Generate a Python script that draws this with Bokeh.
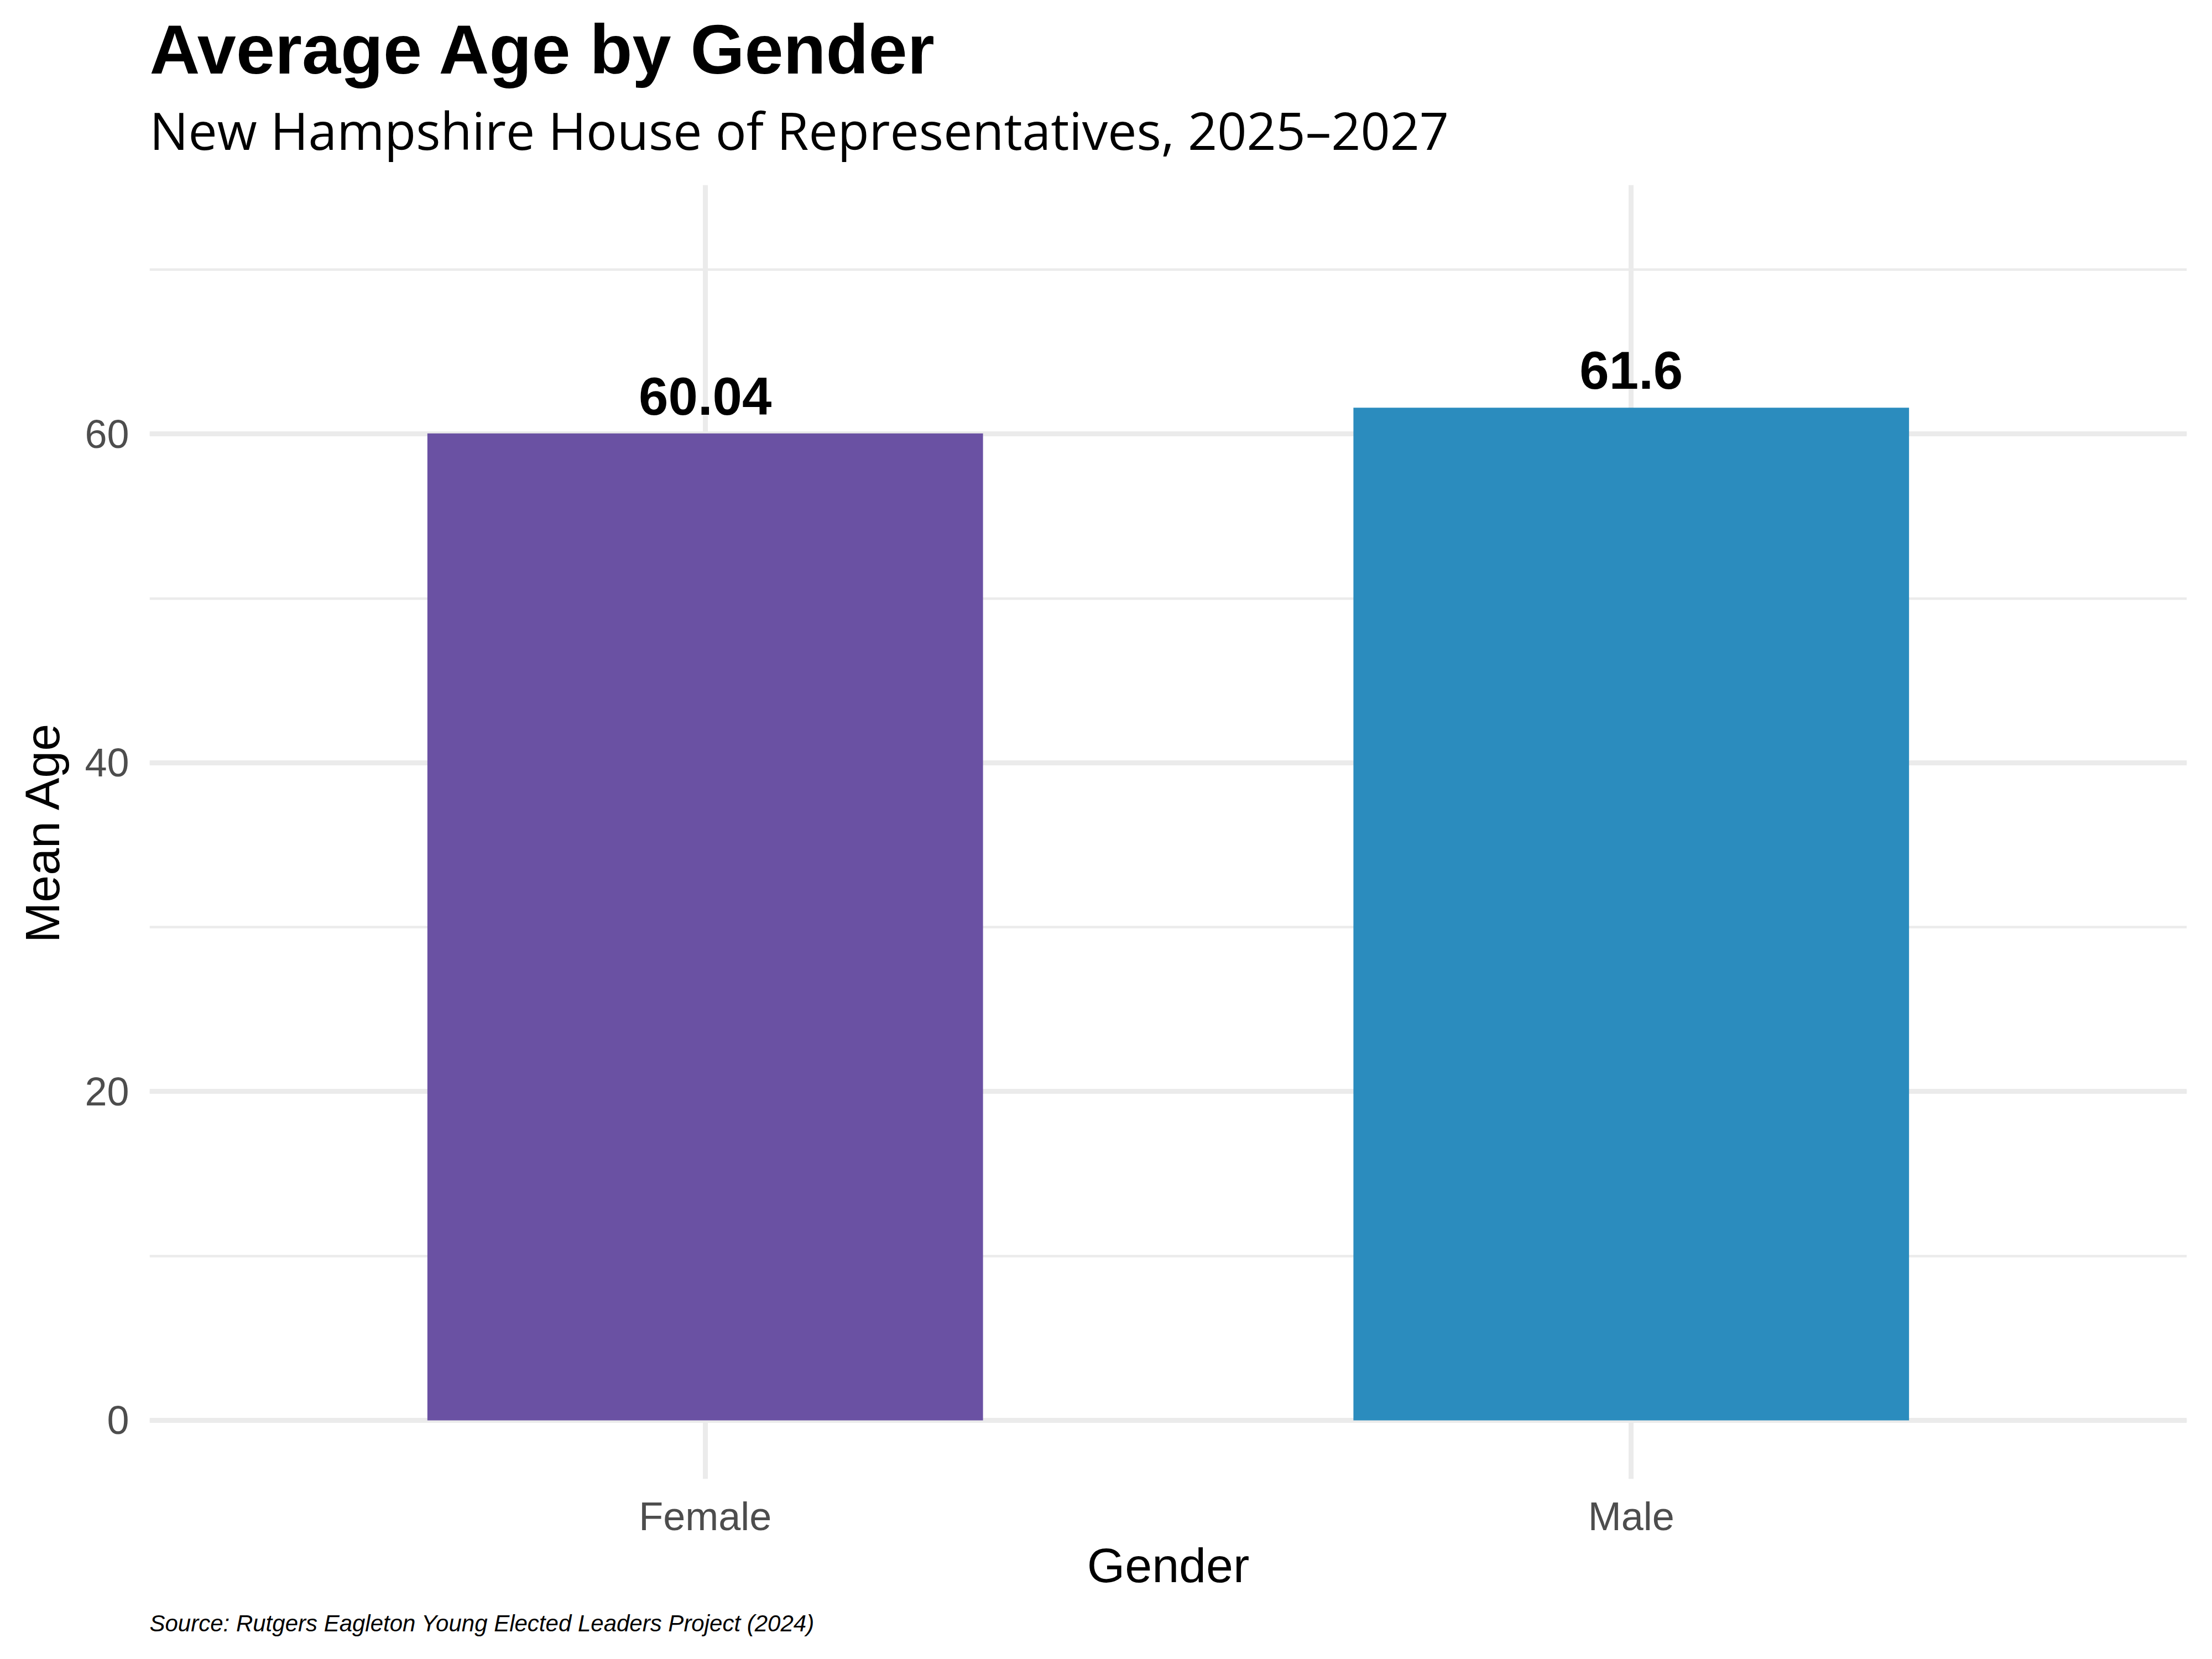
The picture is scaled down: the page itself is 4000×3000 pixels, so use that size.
from bokeh.plotting import figure
from bokeh.layouts import column
from bokeh.models import FactorRange, Range1d, SingleIntervalTicker, LabelSet, Label, ColumnDataSource
from bokeh.embed import file_html
from bokeh.resources import INLINE
from bokeh.core.properties import value

# ---- data ----
genders = ["Female", "Male"]
mean_age = [60.04, 61.6]
value_labels = ["60.04", "61.6"]
bar_colors = ["#6A51A3", "#2B8CBE"]

title_text = "Average Age by Gender"
subtitle_text = "New Hampshire House of Representatives, 2025\u20132027"
caption_text = "Source: Rutgers Eagleton Young Elected Leaders Project (2024)"
x_title = "Gender"
y_title = "Mean Age"

# ---- layout (pixels) ----
W = 3984
TOP_H = 334          # header strip (title + subtitle)
FRAME_H = 2340       # plotting panel height
BOTTOM_B = 230       # room for x axis under the panel
CAP_H = 80           # caption strip
FL, FR = 270, 30


def text_strip(h):
    f = figure(width=W, height=h, x_range=Range1d(0, 1), y_range=Range1d(0, 1),
               output_backend="svg", toolbar_location=None, title_location=None,
               x_axis_type=None, y_axis_type=None,
               min_border_left=FL, min_border_right=FR, min_border_top=0, min_border_bottom=0)
    f.outline_line_color = None
    f.background_fill_color = "white"
    f.border_fill_color = "white"
    return f


# header
head = text_strip(TOP_H)
head.add_layout(Label(x=0, y=TOP_H - 133 + 44, x_units="screen", y_units="screen", text=title_text,
                      text_font="Liberation Sans", text_font_style="bold", text_font_size="126px",
                      text_color="black", text_align="left", text_baseline="alphabetic"))
head.add_layout(Label(x=0, y=TOP_H - 268 + 34, x_units="screen", y_units="screen", text=subtitle_text,
                      text_font="Open Sans", text_font_size="93px",
                      text_color="black", text_align="left", text_baseline="alphabetic"))

# main chart
src = ColumnDataSource(dict(gender=genders, age=mean_age, label=value_labels, color=bar_colors))

p = figure(width=W, height=FRAME_H + BOTTOM_B,
           x_range=FactorRange(factors=genders, range_padding=0.1),
           y_range=Range1d(-3.57, 75.15),
           output_backend="svg", toolbar_location=None, title_location=None,
           min_border_left=FL, min_border_right=FR, min_border_top=0, min_border_bottom=BOTTOM_B)
p.background_fill_color = "white"
p.border_fill_color = "white"
p.outline_line_color = None

p.vbar(x="gender", top="age", bottom=0, width=0.6, source=src, fill_color="color", line_color=None)

p.add_layout(LabelSet(x="gender", y="age", text="label", source=src, text_align="center",
                      text_baseline="alphabetic", y_offset=34, text_font=value("Liberation Sans"),
                      text_font_style="bold", text_font_size="96px", text_color="black"))

# axes
p.yaxis.ticker = SingleIntervalTicker(interval=20, num_minor_ticks=2)
for ax in (p.xaxis, p.yaxis):
    ax.axis_line_color = None
    ax.major_tick_line_color = None
    ax.minor_tick_line_color = None
    ax.major_tick_out = 0
    ax.major_tick_in = 0
    ax.minor_tick_out = 0
    ax.minor_tick_in = 0
    ax.major_label_text_font = "Liberation Sans"
    ax.major_label_text_font_size = "72px"
    ax.major_label_text_color = "#4D4D4D"
    ax.axis_label_text_font = "Liberation Sans"
    ax.axis_label_text_font_size = "88px"
    ax.axis_label_text_font_style = "normal"
    ax.axis_label_text_color = "black"

p.xaxis.axis_label = x_title
p.yaxis.axis_label = y_title
p.xaxis.major_label_standoff = 27
p.xaxis.axis_label_standoff = -4
p.yaxis.major_label_standoff = 37
p.yaxis.axis_label_standoff = 24

# grid
p.xgrid.grid_line_color = "#EBEBEB"
p.xgrid.grid_line_width = 9
p.ygrid.grid_line_color = "#EBEBEB"
p.ygrid.grid_line_width = 9
p.ygrid.minor_grid_line_color = "#EBEBEB"
p.ygrid.minor_grid_line_width = 4.5

# caption strip
cap = text_strip(CAP_H)
cap.add_layout(Label(x=0, y=CAP_H - 41 + 10, x_units="screen", y_units="screen", text=caption_text,
                     text_font="Liberation Sans", text_font_style="italic", text_font_size="42px",
                     text_color="black", text_align="left", text_baseline="alphabetic"))

layout = column(head, p, cap, spacing=0)
open("out.html", "w").write(file_html(layout, INLINE))
